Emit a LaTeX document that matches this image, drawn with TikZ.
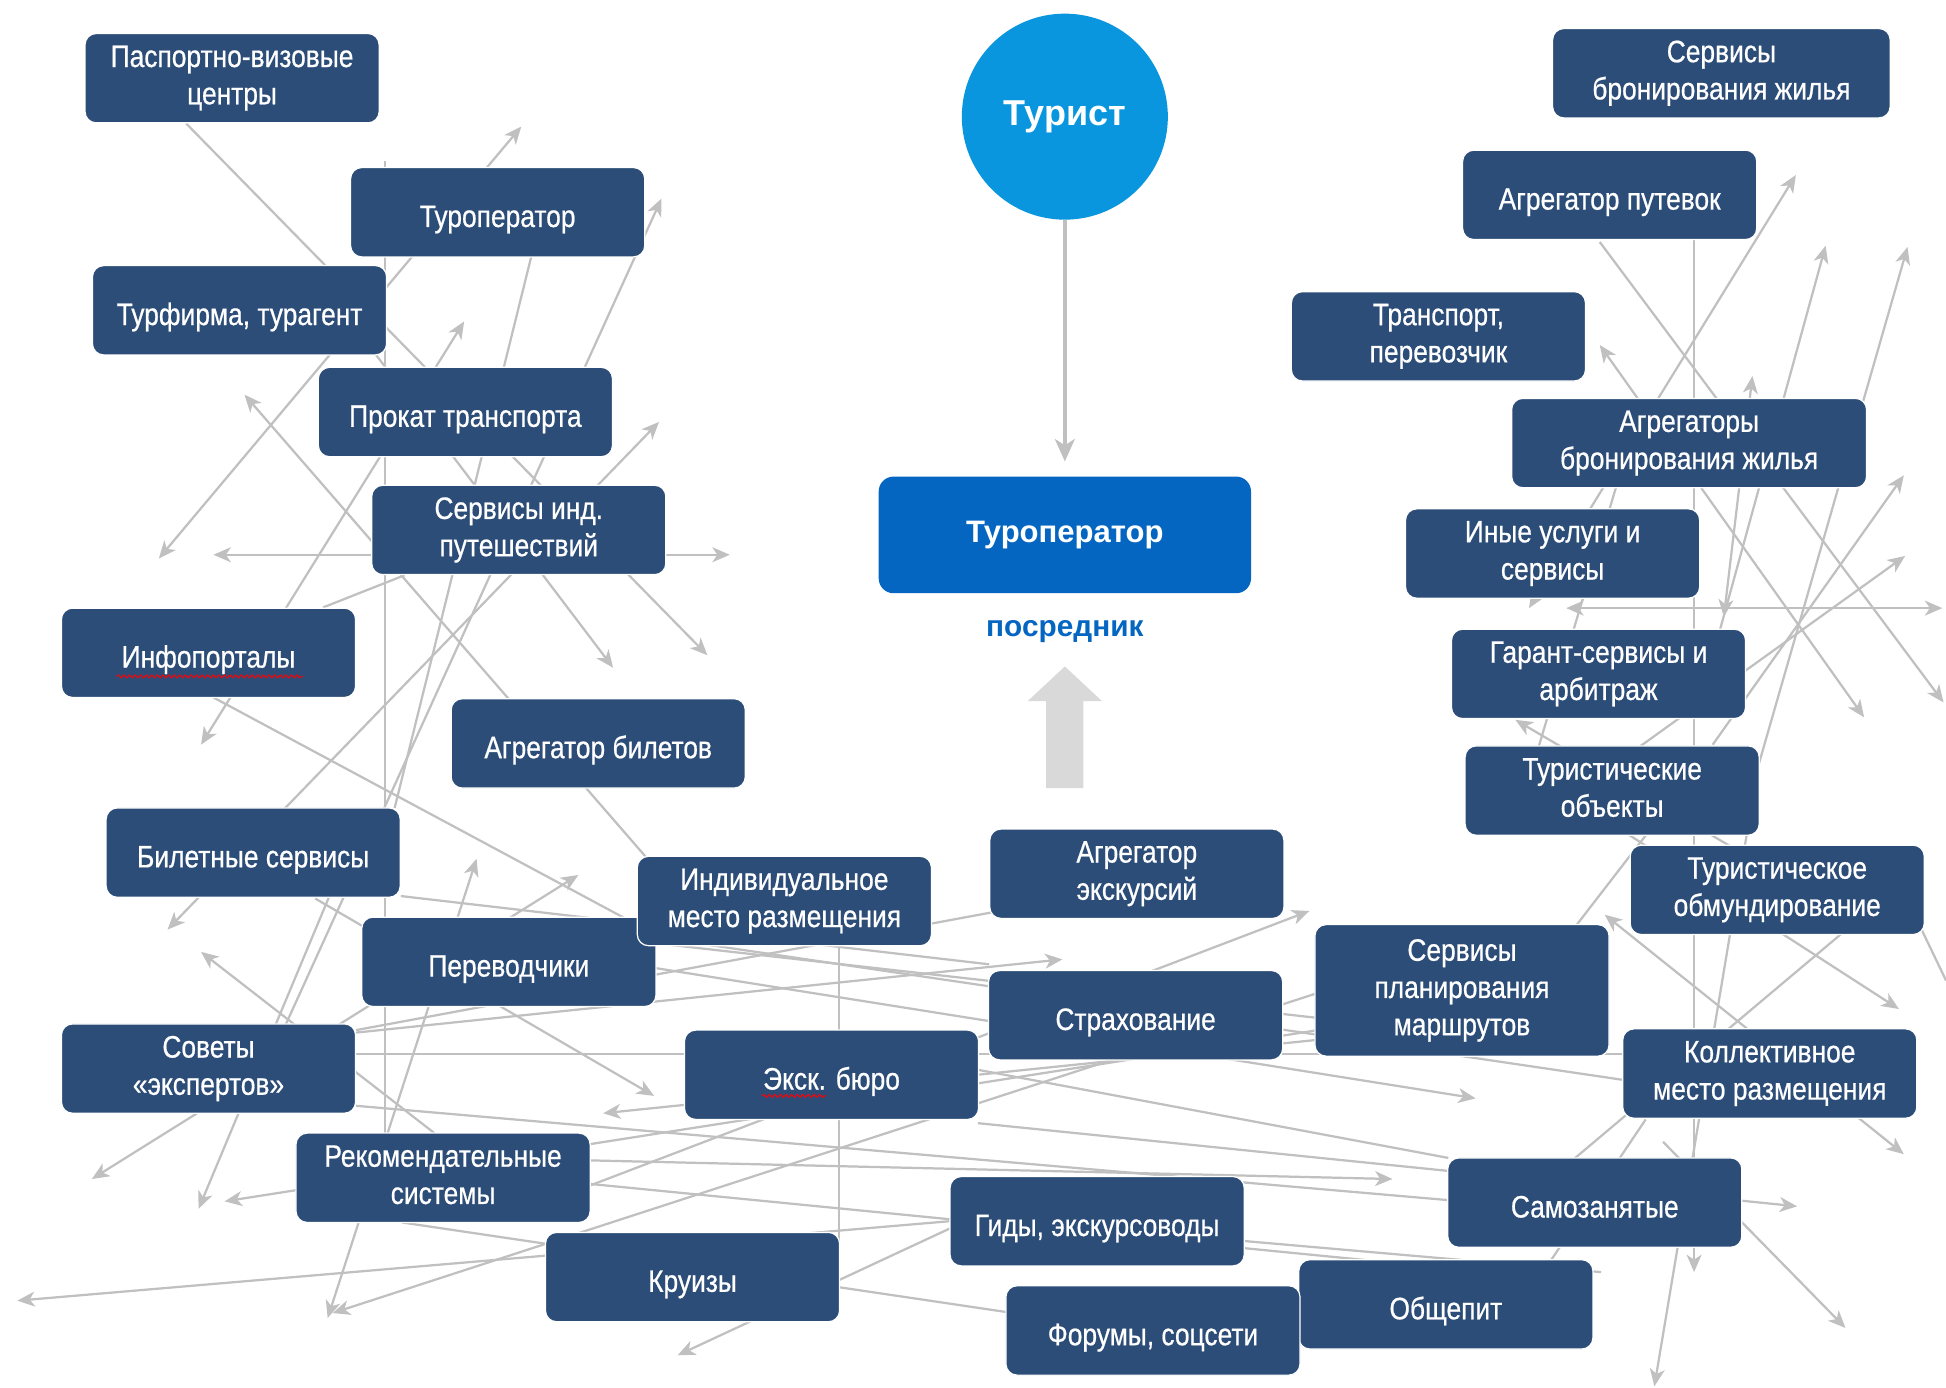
\documentclass[tikz,border=0pt]{standalone}
\usepackage{fontspec}
\setmainfont{Liberation Sans}
\newfontfamily\narrowfont{Liberation Sans}[FakeStretch=0.85,FakeBold=0.6]
\usetikzlibrary{arrows.meta,backgrounds,decorations.pathmorphing}
\definecolor{boxblue}{RGB}{44,77,120}
\definecolor{tourblue}{RGB}{9,150,222}
\definecolor{opblue}{RGB}{5,102,193}
\definecolor{linegray}{RGB}{192,192,192}
\definecolor{blockgray}{RGB}{217,217,217}
\tikzset{
  box/.style={fill=boxblue, draw=white, line width=1pt, rounded corners=9pt,
    minimum width=237pt, minimum height=72pt, text=white, align=center,
    inner sep=2pt, font=\narrowfont\fontsize{25}{30}\selectfont,
    execute at begin node={\rule{0pt}{29pt}},
    execute at end node={\rule[-5pt]{0pt}{5pt}}},
  tip/.tip={Stealth[length=14pt,width=12pt,inset=4pt]},
  gl/.style={draw=linegray, line width=1.8pt},
  ga/.style={gl, -tip},
  gb/.style={gl, tip-tip},
  squig/.style={draw=red, line width=0.8pt, decorate,
    decoration={snake, amplitude=1.2pt, segment length=4.5pt}}
}
\begin{document}
\begin{tikzpicture}[x=1pt,y=-1pt]
\useasboundingbox (0,0) rectangle (1568,1118);

% centre
\node[circle, fill=tourblue, minimum size=166pt, inner sep=0pt, text=white,
  font=\bfseries\fontsize{29}{34}\selectfont] (tourist) at (858,94) {Турист};
\node[fill=opblue, rounded corners=12pt, minimum width=300pt, minimum height=94pt,
  text=white, font=\bfseries\fontsize{25}{30}\selectfont] (op) at (858,431) {Туроператор};
\node[text=opblue, font=\bfseries\fontsize{24}{28}\selectfont] (posr) at (858,509) {посредник};
\draw[draw=linegray, line width=3pt, -{Stealth[length=18pt,width=16pt,inset=5pt]}]
  (tourist.south) -- ([yshift=12pt]op.north);
\fill[blockgray] (843,635) -- (843,565) -- (828,565) -- (858,537) -- (888,565)
  -- (873,565) -- (873,635) -- cycle;

% boxes
\node[box] (pasp) at (187,63) {Паспортно-визовые\\центры};
\node[box] (tourop) at (401,171) {Туроператор};
\node[box] (turf) at (193,250) {Турфирма, турагент};
\node[box] (prokat) at (375,332) {Прокат транспорта};
\node[box] (servind) at (418,427) {Сервисы инд.\\путешествий};
\node[box] (info) at (168,526) {Инфопорталы};
\node[box] (aggbil) at (482,599) {Агрегатор билетов};
\node[box] (bilet) at (204,687) {Билетные сервисы};
\node[box] (perev) at (410,775) {Переводчики};
\node[box] (indiv) at (632,726) {Индивидуальное\\место размещения};
\node[box] (aggexc) at (916,704) {Агрегатор\\экскурсий};
\node[box] (sovety) at (168,861) {Советы\\«экспертов»};
\node[box] (exc) at (670,866) {Экск. бюро};
\node[box] (strah) at (915,818) {Страхование};
\node[box] (rekom) at (357,949) {Рекомендательные\\системы};
\node[box] (gidy) at (884,984) {Гиды, экскурсоводы};
\node[box] (kruiz) at (558,1029) {Круизы};
\node[box] (obsch) at (1165,1051) {Общепит};
\node[box] (forum) at (929,1072) {Форумы, соцсети};
\node[box] (samoz) at (1285,969) {Самозанятые};
\node[box, minimum height=106pt] (plan) at (1178,798) {Сервисы\\планирования\\маршрутов};
\node[box] (koll) at (1426,865) {Коллективное\\место размещения};
\node[box] (obmund) at (1432,717) {Туристическое\\обмундирование};
\node[box] (turobj) at (1299,637) {Туристические\\объекты};
\node[box] (garant) at (1288,543) {Гарант-сервисы и\\арбитраж};
\node[box] (inye) at (1251,446) {Иные услуги и\\сервисы};
\node[box, minimum width=286pt] (aggbron) at (1361,357) {Агрегаторы\\бронирования жилья};
\node[box] (transp) at (1159,271) {Транспорт,\\перевозчик};
\node[box] (aggput) at (1297,157) {Агрегатор путевок};
\node[box, minimum width=272pt] (servbron) at (1387,59) {Сервисы\\бронирования жилья};

% spell-check squiggles
\draw[squig] ([shift={(-74,19)}]info.center) -- ([shift={(76,19)}]info.center);
\draw[squig] ([shift={(-56,17)}]exc.center) -- ([shift={(-4,17)}]exc.center);

\begin{pgfonlayer}{background}
\fill[white] (0,0) rectangle (1568,1118);
% left cluster
\draw[ga] ([xshift=-37pt]pasp.south) -- (570,528);
\draw[ga] (300,282) -- (494,538);
\draw[gb] (128,450) -- (420,102);
\draw[gb] (162,600) -- (374,259);
\draw[ga] (520,690) -- (197,318);
\draw[ga] (230,826) -- (533,160);
\draw[gb] (135,749) -- (531,340);
\draw[gb] (172,447) -- (588,447);
\draw[gl] (info) -- (servind);
\draw[gl] (428,207) -- (318,651);
\draw[gl] (310,130) -- (310,913);
\draw[gl] (172,562) -- (513,745);
\draw[gb] (74,950) -- (466,705);
\draw[gb] (264,1062) -- (384,692);
\draw[ga] (350,913) -- (162,767);
\draw[ga] (254,724) -- (527,883);
\draw[gl] (323,722) -- (797,777);
\draw[ga] (265,723) -- (160,974);
% centre band
\draw[ga] (287,832) -- (856,773);
\draw[gl] (287,830) -- (800,735);
\draw[ga] (476,955) -- (1055,734);
\draw[ga] (1060,838) -- (486,897);
\draw[gl] (528,760) -- (1060,820);
\draw[gl] (287,891) -- (1167,967);
\draw[gl] (476,954) -- (1250,1030);
\draw[gl] (324,985) -- (830,1060);
\draw[ga] (765,984) -- (14,1048);
\draw[ga] (1062,800) -- (268,1058);
\draw[ga] (1062,830) -- (181,968);
\draw[ga] (765,990) -- (546,1092);
\draw[ga] (528,780) -- (1189,885);
\draw[gl] (528,755) -- (1307,870);
\draw[ga] (476,935) -- (1122,950);
\draw[ga] (788,905) -- (1448,972);
\draw[gl] (788,862) -- (1167,933);
\draw[gl] (1003,1000) -- (1290,1025);
\draw[gl] (287,849) -- (1307,849);
\draw[gl] (676,762) -- (676,1050);
% right cluster
\draw[ga] (1365,193) -- (1365,1025);
\draw[gb] (1262,490) -- (1565,490);
\draw[gb] (1232,490) -- (1447,141);
\draw[ga] (1386,507) -- (1471,198);
\draw[ga] (1411,637) -- (1537,199);
\draw[gb] (1389,497) -- (1412,303);
\draw[gb] (1289,278) -- (1502,578);
\draw[ga] (1289,195) -- (1566,566);
\draw[ga] (1380,600) -- (1534,383);
\draw[ga] (1322,601) -- (1535,448);
\draw[ga] (1420,697) -- (1221,580);
\draw[gb] (1293,737) -- (1534,930);
\draw[ga] (1313,673) -- (1530,813);
\draw[ga] (1340,920) -- (1487,1070);
\draw[ga] (1412,645) -- (1333,1117);
\draw[gl] (1268,934) -- (1483,753);
\draw[gl] (1250,1015) -- (1326,902);
\draw[gl] (1302,393) -- (1240,601);
\draw[gl] (1520,690) -- (1568,790);
\draw[gl] (1269,747) -- (1330,668);
\end{pgfonlayer}
\end{tikzpicture}
\end{document}
